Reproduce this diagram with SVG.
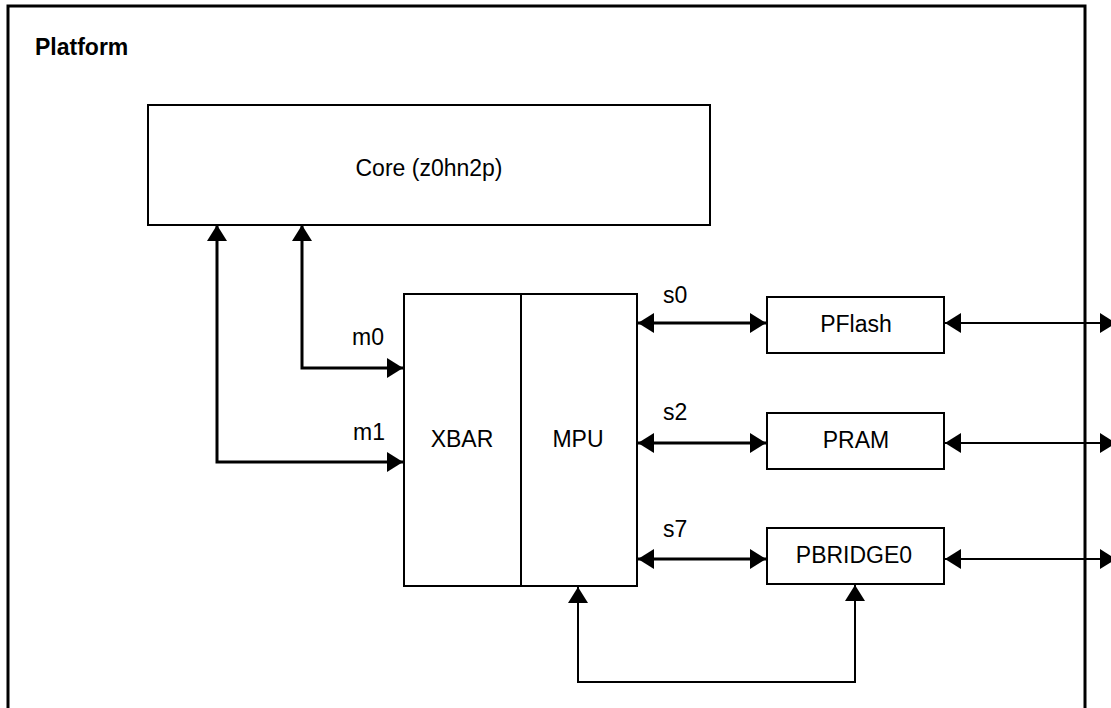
<svg xmlns="http://www.w3.org/2000/svg" width="1111" height="708" viewBox="0 0 1111 708">
<style>
  .box { fill: #fff; stroke: #000; stroke-width: 2; }
  .frame { fill: none; stroke: #000; stroke-width: 3; }
  .t { font-family: "Liberation Sans", Arial, sans-serif; font-size: 23px; fill: #000; }
  .c { text-anchor: middle; }
  .thick { fill: none; stroke: #000; stroke-width: 3; }
  .thin { fill: none; stroke: #000; stroke-width: 2; }
</style>
<defs>
  <marker id="ah" viewBox="0 0 16 20" refX="16" refY="10" markerWidth="16" markerHeight="20" markerUnits="userSpaceOnUse" orient="auto-start-reverse">
    <path d="M0,0 L16,10 L0,20 Z" fill="#000"/>
  </marker>
</defs>
<rect width="1111" height="708" fill="#fff"/>
<g id="platform">
  <rect class="frame" x="8" y="6" width="1077" height="720"/>
  <text class="t" x="35" y="55" font-weight="bold" font-size="22">Platform</text>
</g>
<g id="core">
  <rect class="box" x="148" y="105" width="562" height="120"/>
  <text class="t c" x="429" y="176" font-size="24">Core (z0hn2p)</text>
</g>
<g id="xbar">
  <rect class="box" x="404" y="294" width="117" height="292"/>
  <text class="t c" x="462" y="447">XBAR</text>
</g>
<g id="mpu">
  <rect class="box" x="521" y="294" width="116" height="292"/>
  <text class="t c" x="578" y="447">MPU</text>
</g>
<g id="pflash">
  <rect class="box" x="767" y="297" width="177" height="56"/>
  <text class="t c" x="856" y="332" font-size="24">PFlash</text>
</g>
<g id="pram">
  <rect class="box" x="767" y="413" width="177" height="56"/>
  <text class="t c" x="856" y="448" font-size="24">PRAM</text>
</g>
<g id="pbridge0">
  <rect class="box" x="767" y="528" width="177" height="56"/>
  <text class="t c" x="854" y="563" font-family="'DejaVu Sans', sans-serif" font-size="22.5">PBRIDGE0</text>
</g>
<g id="connectors">
  <path class="thick" d="M403,368 H302 V225" marker-start="url(#ah)" marker-end="url(#ah)"/>
  <path class="thick" d="M403,462 H217 V225" marker-start="url(#ah)" marker-end="url(#ah)"/>
  <path class="thick" d="M638,323 H766" marker-start="url(#ah)" marker-end="url(#ah)"/>
  <path class="thick" d="M638,443 H766" marker-start="url(#ah)" marker-end="url(#ah)"/>
  <path class="thick" d="M638,559 H766" marker-start="url(#ah)" marker-end="url(#ah)"/>
  <path class="thin" d="M945,323 H1116" marker-start="url(#ah)" marker-end="url(#ah)"/>
  <path class="thin" d="M945,443 H1116" marker-start="url(#ah)" marker-end="url(#ah)"/>
  <path class="thin" d="M945,559 H1116" marker-start="url(#ah)" marker-end="url(#ah)"/>
  <path class="thin" d="M578,587 V682 H855 V585" marker-start="url(#ah)" marker-end="url(#ah)"/>
  <text class="t" x="352" y="345">m0</text>
  <text class="t" x="353" y="440">m1</text>
  <text class="t" x="663" y="303">s0</text>
  <text class="t" x="663" y="420">s2</text>
  <text class="t" x="663" y="537">s7</text>
</g>
</svg>
